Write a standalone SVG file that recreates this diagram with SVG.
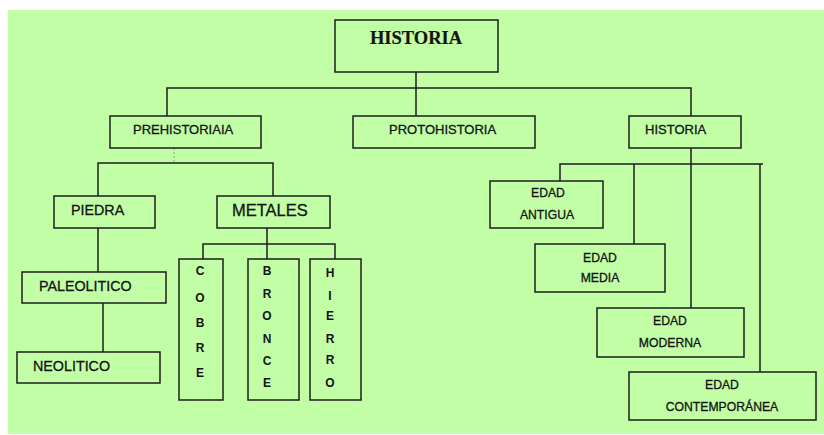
<svg xmlns="http://www.w3.org/2000/svg" width="824" height="435" viewBox="0 0 824 435">
<style>
.box{fill:none;stroke:#1e1e1e;stroke-width:1.5}
.ln{fill:none;stroke:#1e1e1e;stroke-width:1.5}
.faint{fill:none;stroke:#9aa590;stroke-width:1;stroke-dasharray:2 2}
text{font-family:"Liberation Sans",Arial,sans-serif;fill:#141414;stroke:#141414;stroke-width:0.3}
.t13{font-size:13px}
.t14{font-size:14.3px}
.t12{font-size:12.2px;text-anchor:middle}
.v{font-size:12px;font-weight:bold;text-anchor:middle;stroke-width:0}
.serif{font-family:"Liberation Serif","Times New Roman",serif;font-weight:bold;font-size:18.5px;text-anchor:middle;stroke-width:0.2}
</style>
<rect x="0" y="0" width="824" height="435" fill="#ffffff"/>
<rect x="8" y="10" width="816" height="424" fill="#c1fea6"/>
<g id="connectors">
<path class="ln" d="M416 72V116M167 116V88H691V116"/>
<path class="faint" d="M174 148V163"/>
<path class="ln" d="M98 196V163H273V196"/>
<path class="ln" d="M98 228V272M103 303V352"/>
<path class="ln" d="M267 228V259M203 259V244H335V259"/>
<path class="ln" d="M691 148V308M560 181V164H763M634 164V244M760 164V372"/>
</g>
<g id="historia-root"><rect class="box" x="335" y="20" width="163" height="52"/><text class="serif" x="416" y="44">HISTORIA</text></g>
<g id="prehistoria"><rect class="box" x="110" y="116" width="151" height="32"/><text class="t13" x="133" y="134">PREHISTORIAIA</text></g>
<g id="protohistoria"><rect class="box" x="353" y="116" width="182" height="32"/><text class="t13" x="389" y="134">PROTOHISTORIA</text></g>
<g id="historia"><rect class="box" x="629" y="116" width="112" height="32"/><text class="t13" x="645" y="134">HISTORIA</text></g>
<g id="piedra"><rect class="box" x="54" y="196" width="101" height="32"/><text class="t14" x="71" y="215">PIEDRA</text></g>
<g id="metales"><rect class="box" x="217" y="196" width="113" height="32"/><text x="232" y="216" font-size="16.5">METALES</text></g>
<g id="paleolitico"><rect class="box" x="22" y="272" width="144" height="31"/><text class="t14" x="39" y="291">PALEOLITICO</text></g>
<g id="neolitico"><rect class="box" x="17" y="352" width="143" height="31"/><text class="t14" x="33" y="371">NEOLITICO</text></g>
<g id="cobre"><rect class="box" x="179" y="259" width="44" height="141"/>
<text class="v" x="200" y="275">C</text><text class="v" x="200" y="302">O</text><text class="v" x="200" y="327">B</text><text class="v" x="200" y="352">R</text><text class="v" x="200" y="377">E</text></g>
<g id="bronce"><rect class="box" x="248" y="259" width="51" height="141"/>
<text class="v" x="267" y="275">B</text><text class="v" x="267" y="298">R</text><text class="v" x="267" y="320">O</text><text class="v" x="267" y="343">N</text><text class="v" x="267" y="365">C</text><text class="v" x="267" y="387">E</text></g>
<g id="hierro"><rect class="box" x="310" y="259" width="51" height="141"/>
<text class="v" x="330" y="277">H</text><text class="v" x="330" y="300">I</text><text class="v" x="330" y="320">E</text><text class="v" x="330" y="343">R</text><text class="v" x="330" y="364">R</text><text class="v" x="330" y="387">O</text></g>
<g id="edad-antigua"><rect class="box" x="490" y="181" width="113" height="47"/><text class="t12" x="548" y="197">EDAD</text><text class="t12" x="547" y="219">ANTIGUA</text></g>
<g id="edad-media"><rect class="box" x="535" y="244" width="130" height="48"/><text class="t12" x="600" y="262">EDAD</text><text class="t12" x="600" y="282">MEDIA</text></g>
<g id="edad-moderna"><rect class="box" x="597" y="308" width="147" height="49"/><text class="t12" x="670" y="325">EDAD</text><text class="t12" x="670" y="347">MODERNA</text></g>
<g id="edad-contemporanea"><rect class="box" x="629" y="372" width="187" height="48"/><text class="t12" x="722" y="389">EDAD</text><text class="t12" x="722" y="411">CONTEMPORÁNEA</text></g>
</svg>
